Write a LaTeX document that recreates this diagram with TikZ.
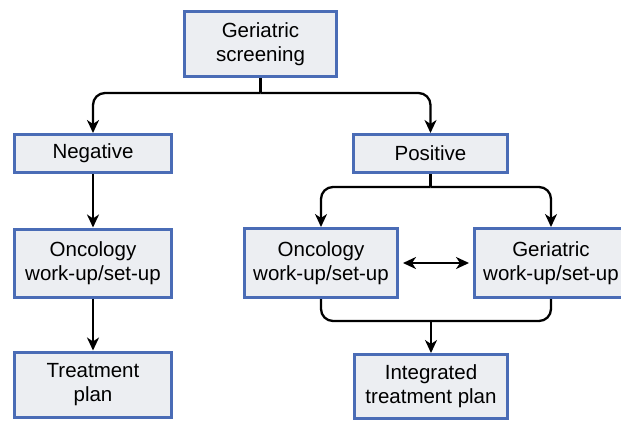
\documentclass[tikz,border=0pt]{standalone}
\usepackage{fontspec}
\setmainfont{Liberation Sans}
\usepackage{tikz}
\usetikzlibrary{arrows.meta,positioning}
\definecolor{boxblue}{RGB}{74, 108, 182}
\definecolor{boxfill}{RGB}{236, 238, 242}
\tikzstyle{box} = [rectangle, draw=boxblue, line width=3pt, fill=boxfill, text=black, align=center, font=\fontsize{20.5}{24}\selectfont, inner sep=0pt]
\tikzstyle{tline} = [draw, line width=2.3pt, rounded corners=12pt]
\tikzstyle{tedge} = [tline, -{Stealth[length=13pt, width=12pt, inset=4pt]}]
\tikzstyle{tedge2} = [tline, {Stealth[length=13pt, width=12pt, inset=4pt]}-{Stealth[length=13pt, width=12pt, inset=4pt]}]

\begin{document}
\begin{tikzpicture}[x=1pt, y=1pt]
\clip (0,0) rectangle (621,-424);

% boxes =============================

% screening
\node[box, minimum width=152pt, minimum height=65pt] (screen) at (260.5,-44) {Geriatric\\screening};

% negative branch
\node[box, minimum width=157pt, minimum height=38pt] (neg) at (93,-153.5) {Negative};
\node[box, minimum width=157pt, minimum height=68pt, below=53.5pt of neg] (onc1) {Oncology\\work-up/set-up};
\node[box, minimum width=157pt, minimum height=65pt, below=52pt of onc1] (treat) {Treatment\\plan};

% positive branch
\node[box, minimum width=154pt, minimum height=38pt] (pos) at (430.5,-153.5) {Positive};
\node[box, minimum width=153pt, minimum height=69pt] (onc2) at (321,-263) {Oncology\\work-up/set-up};
\node[box, minimum width=153pt, minimum height=69pt, right=74pt of onc2] (ger) {Geriatric\\work-up/set-up};
\node[box, minimum width=153pt, minimum height=64pt] (integ) at (431,-386.5) {Integrated\\treatment plan};

% edges
\coordinate[below=15pt of screen] (split1);
\path[tline] (screen.south) -- (split1);
\path[tedge] (split1) -| (neg.north);
\path[tedge] (split1) -| (pos.north);
\path[tedge] (neg) -- (onc1);
\path[tedge] (onc1) -- (treat);

\coordinate[below=13pt of pos] (split2);
\path[tline] (pos.south) -- (split2);
\path[tedge] (split2) -| (onc2.north);
\path[tedge] (split2) -| (ger.north);
\path[tedge2, shorten <=4pt, shorten >=4pt] (onc2) -- (ger);

\coordinate[below=22pt of onc2] (merge);
\path[tline] (onc2.south) -- (merge) -| (ger.south);
\path[tedge] (merge -| integ.north) -- (integ.north);

\end{tikzpicture}
\end{document}
